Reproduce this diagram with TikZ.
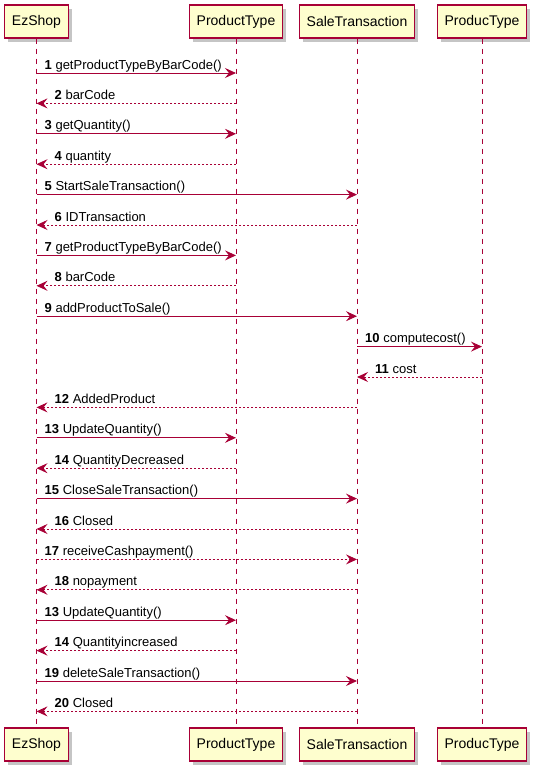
\documentclass[tikz,border=0pt]{standalone}
\usepackage{fontspec}
\setmainfont{Liberation Sans}
\usetikzlibrary{arrows.meta, positioning, shadows}
\definecolor{umlred}{HTML}{A80036}
\definecolor{umlfill}{HTML}{FEFECE}

\begin{document}
\begin{tikzpicture}[x=1pt, y=-1pt,
    part/.style={draw=umlred, fill=umlfill, line width=1.1pt, minimum height=33pt, inner xsep=7.5pt,
      font=\fontsize{14}{16}\selectfont,
      drop shadow={shadow xshift=3.5pt, shadow yshift=-3.5pt, fill=black!45, opacity=0.5}},
    life/.style={umlred, line width=0.8pt, dash pattern=on 5pt off 5pt},
    call/.style={umlred, line width=0.9pt, -{Stealth[length=11pt, width=10pt, inset=4pt]}},
    reply/.style={call, dash pattern=on 2pt off 2pt},
    lbl/.style={font=\fontsize{13}{15}\selectfont, inner sep=0pt, anchor=base west}]
  \useasboundingbox (0,0) rectangle (539,772);

  % participants, top and bottom
  \node[part] (ezTop) at (36.5,21.5) {EzShop};
  \node[part] (ptTop) at (236,21.5) {ProductType};
  \node[part] (stTop) at (357,21.5) {SaleTransaction};
  \node[part] (pcTop) at (482,21.5) {ProducType};
  \node[part] (ezBot) at (36.5,744.5) {EzShop};
  \node[part] (ptBot) at (236,744.5) {ProductType};
  \node[part] (stBot) at (357,744.5) {SaleTransaction};
  \node[part] (pcBot) at (482,744.5) {ProducType};

  % lifelines
  \foreach \p in {ez, pt, st, pc}
    \draw[life] (\p Top.south) -- (\p Bot.north);

  % calls (label at the sender)
  \foreach \r/\a/\b/\s/\n/\t in {
      1/ezTop/ptTop/call/1/getProductTypeByBarCode(),
      3/ezTop/ptTop/call/3/getQuantity(),
      5/ezTop/stTop/call/5/StartSaleTransaction(),
      7/ezTop/ptTop/call/7/getProductTypeByBarCode(),
      9/ezTop/stTop/call/9/addProductToSale(),
      10/stTop/pcTop/call/10/computecost(),
      13/ezTop/ptTop/call/13/UpdateQuantity(),
      15/ezTop/stTop/call/15/CloseSaleTransaction(),
      17/ezTop/stTop/reply/17/receiveCashpayment(),
      19/ezTop/ptTop/call/13/UpdateQuantity(),
      21/ezTop/stTop/call/19/deleteSaleTransaction()} {
    \pgfmathsetmacro{\y}{73+30.4*(\r-1)}
    \draw[\s] (\a |- 0,\y) -- (\b |- 0,\y);
    \node[lbl] (m\r) at ([xshift=8pt, yshift=4pt]\a |- 0,\y) {\textbf{\n} \t};
  }

  % replies (label past the arrow head)
  \foreach \r/\a/\b/\n/\t in {
      2/ptTop/ezTop/2/barCode,
      4/ptTop/ezTop/4/quantity,
      6/stTop/ezTop/6/IDTransaction,
      8/ptTop/ezTop/8/barCode,
      11/pcTop/stTop/11/cost,
      12/stTop/ezTop/12/AddedProduct,
      14/ptTop/ezTop/14/QuantityDecreased,
      16/stTop/ezTop/16/Closed,
      18/stTop/ezTop/18/nopayment,
      20/ptTop/ezTop/14/Quantityincreased,
      22/stTop/ezTop/20/Closed} {
    \pgfmathsetmacro{\y}{73+30.4*(\r-1)}
    \draw[reply] (\a |- 0,\y) -- (\b |- 0,\y);
    \node[lbl] (m\r) at ([xshift=18pt, yshift=4pt]\b |- 0,\y) {\textbf{\n} \t};
  }
\end{tikzpicture}
\end{document}
